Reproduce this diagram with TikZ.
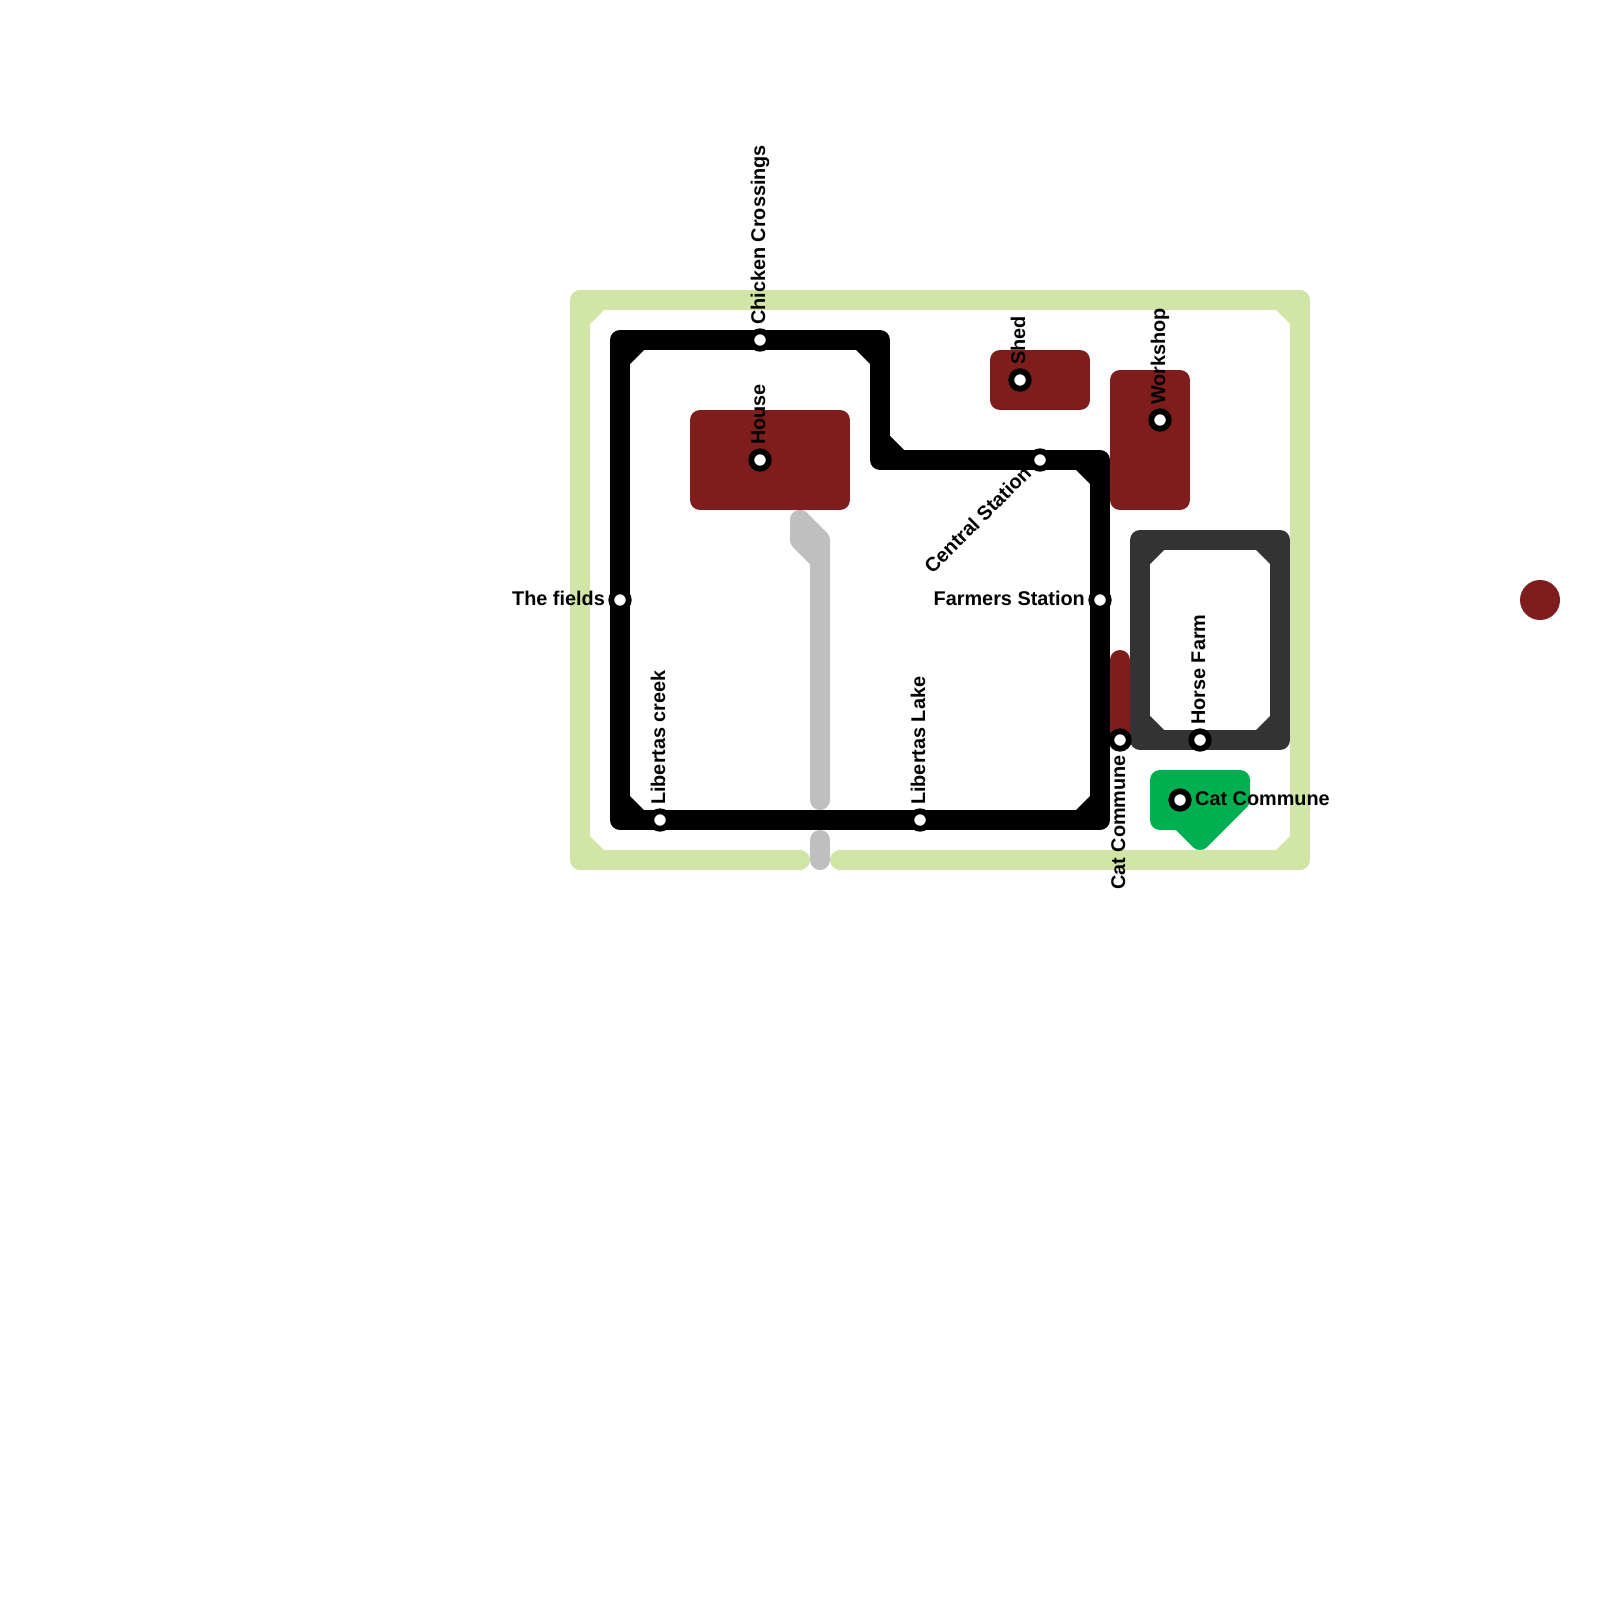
\documentclass[tikz,border=0pt]{standalone}
\usepackage{fontspec}
\setmainfont{Liberation Sans}
\definecolor{linegreen}{HTML}{D0E5A6}
\definecolor{maroon}{HTML}{7F1D1D}
\definecolor{greyline}{HTML}{BFBFBF}
\definecolor{darkline}{HTML}{333333}
\definecolor{catgreen}{HTML}{00B050}
\newcommand{\chamf}[5]{\fill[#1] (#2,#3) -- ++({#4*14},0) -- ++({-#4*14},{#5*14}) -- cycle;}
\tikzset{
  metro/.style={line width=20pt,line cap=round,line join=round},
  block/.style={fill=maroon,draw=maroon,line width=20pt,line join=round},
  stop/.style={circle,draw=black,fill=white,line width=5.8pt,minimum size=17.5pt,inner sep=0pt,outer sep=0pt},
  lbl/.style={inner sep=0pt,font=\bfseries\fontsize{19.85}{22}\selectfont,text=black},
  upl/.style={lbl,rotate=90,anchor=base west},
  upr/.style={lbl,rotate=90,anchor=base east},
  leftl/.style={lbl,anchor=base east},
  rightl/.style={lbl,anchor=base west}
}
\begin{document}
\begin{tikzpicture}[x=1pt,y=-1pt]
\useasboundingbox (0,0) rectangle (1600,1600);
\fill[white] (0,0) rectangle (1600,1600);
% station positions
\coordinate (pchicken) at (760,340);
\coordinate (pfields) at (620,600);
\coordinate (pcreek) at (660,820);
\coordinate (plake) at (920,820);
\coordinate (pcentral) at (1040,460);
\coordinate (pfarmers) at (1100,600);
\coordinate (phouse) at (760,460);
\coordinate (pshed) at (1020,380);
\coordinate (pworkshop) at (1160,420);
\coordinate (pcatv) at (1120,740);
\coordinate (phorse) at (1200,740);
\coordinate (pcath) at (1180,800);
% light green loop
\coordinate (ga) at (800,860); \coordinate (gb) at (580,860); \coordinate (gc) at (580,300);
\coordinate (gd) at (1300,300); \coordinate (ge) at (1300,860); \coordinate (gf) at (840,860);
\draw[metro,draw=linegreen] (ga) -- (gb) -- (gc) -- (gd) -- (ge) -- (gf);
\chamf{linegreen}{590}{310}{1}{1}
\chamf{linegreen}{1290}{310}{-1}{1}
\chamf{linegreen}{590}{850}{1}{-1}
\chamf{linegreen}{1290}{850}{-1}{-1}
% blocks
\fill[block] (700,420) rectangle (840,500);
\fill[block] (1000,360) rectangle (1080,400);
\fill[block] (1120,380) rectangle (1180,500);
\fill[maroon] (1540,600) circle (20);
% grey line
\coordinate (ya) at (800,520); \coordinate (yb) at (800,540); \coordinate (yc) at (820,560);
\coordinate (yd) at (820,800); \coordinate (ye) at (820,540);
\coordinate (yf) at (820,840); \coordinate (yg) at (820,860);
\fill[greyline] (ya) -- (yb) -- (yc) -- (ye) -- cycle;
\draw[metro,draw=greyline] (ya) -- (yb) -- (yc) -- (yd);
\draw[metro,draw=greyline] (ya) -- (ye) -- (yc);
\draw[metro,draw=greyline] (yf) -- (yg);
% maroon stub
\coordinate (ma) at (1120,660);
\draw[metro,draw=maroon] (ma) -- (pcatv);
% dark grey loop
\coordinate (da) at (1140,540); \coordinate (db) at (1280,540); \coordinate (dc) at (1280,740); \coordinate (dd) at (1140,740);
\draw[metro,draw=darkline] (da) -- (db) -- (dc) -- (phorse) -- (dd) -- cycle;
\chamf{darkline}{1150}{550}{1}{1}
\chamf{darkline}{1270}{550}{-1}{1}
\chamf{darkline}{1150}{730}{1}{-1}
\chamf{darkline}{1270}{730}{-1}{-1}
% green area
\fill[catgreen,draw=catgreen,line width=20pt,line join=round] (1160,780) -- (1240,780) -- (1240,800) -- (1200,840) -- (1180,820) -- (1160,820) -- cycle;
% black loop
\coordinate (ka) at (620,340); \coordinate (kb) at (880,340); \coordinate (kc) at (880,460);
\coordinate (kd) at (1100,460); \coordinate (ke) at (1100,820); \coordinate (kf) at (620,820);
\draw[metro,draw=black] (ka) -- (pchicken) -- (kb) -- (kc) -- (pcentral) -- (kd) -- (pfarmers) -- (ke) -- (plake) -- (pcreek) -- (kf) -- (pfields) -- cycle;
\chamf{black}{630}{350}{1}{1}
\chamf{black}{870}{350}{-1}{1}
\chamf{black}{890}{450}{1}{-1}
\chamf{black}{1090}{470}{-1}{1}
\chamf{black}{1090}{810}{-1}{-1}
\chamf{black}{630}{810}{1}{-1}
% stations
\node[stop] (chicken) at (pchicken) {};
\node[stop] (fields) at (pfields) {};
\node[stop] (creek) at (pcreek) {};
\node[stop] (lake) at (plake) {};
\node[stop] (central) at (pcentral) {};
\node[stop] (farmers) at (pfarmers) {};
\node[stop] (house) at (phouse) {};
\node[stop] (shed) at (pshed) {};
\node[stop] (workshop) at (pworkshop) {};
\node[stop] (catv) at (pcatv) {};
\node[stop] (horse) at (phorse) {};
\node[stop] (cath) at (pcath) {};
% labels
\node[upl] (lchicken) at (765,325) {Chicken Crossings};
\node[upl] (lhouse) at (765,445) {House};
\node[upl] (lcreek) at (665,805) {Libertas creek};
\node[upl] (llake) at (925,805) {Libertas Lake};
\node[upl] (lshed) at (1025,365) {Shed};
\node[upl] (lworkshop) at (1165,405) {Workshop};
\node[upl] (lhorse) at (1205,725) {Horse Farm};
\node[upr] (lcatv) at (1125,755) {Cat Commune};
\node[rightl] (lcath) at (1195,805) {Cat Commune};
\node[leftl] (lfields) at (605,605) {The fields};
\node[leftl] (lfarmers) at (1085,605) {Farmers Station};
\node[lbl,rotate=45,anchor=base east] (lcentral) at (1032.5,474.5) {Central Station};
\end{tikzpicture}
\end{document}
